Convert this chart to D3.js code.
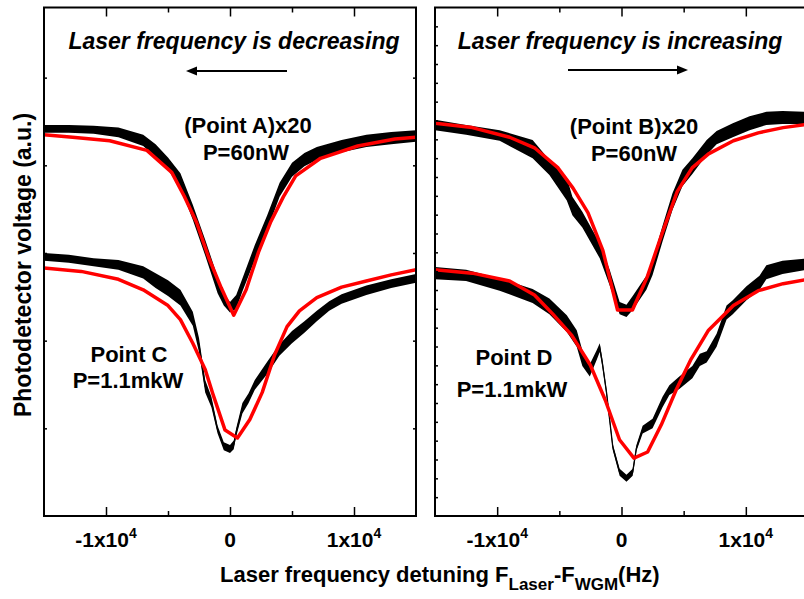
<!DOCTYPE html>
<html>
<head>
  <meta charset="utf-8">
  <style>
    body { margin: 0; background: #fff; }
    text { font-family: "Liberation Sans", Arial, sans-serif; font-weight: bold; fill: #000; }
    .title { font-style: italic; font-size: 23px; }
    .note { font-size: 22px; }
    .tick-label { font-size: 21px; }
  </style>
</head>
<body>
  <script src="https://d3js.org/d3.v7.min.js"></script>
  <svg width="804" height="599"></svg>

  <script>
    /* global d3 */
    // detuning in Hz, signal in a.u. -- measured traces are [f, low edge, high edge] of the noisy band
    var traceA = [[-15000,4.37,4.46],[-13000,4.37,4.46],[-11000,4.36,4.45],[-9000,4.32,4.43],[-7000,4.22,4.35],
      [-6000,4.09,4.24],[-5000,3.95,4.09],[-4000,3.74,3.91],[-3000,3.38,3.55],[-2000,2.97,3.15],[-1000,2.54,2.73],
      [-500,2.40,2.54],[0,2.32,2.44],[500,2.36,2.52],[1000,2.56,2.71],[2000,2.92,3.09],[3000,3.26,3.43],
      [4000,3.64,3.80],[5000,3.87,4.03],[6000,3.99,4.14],[7000,4.06,4.21],[9000,4.15,4.29],[11000,4.21,4.35],
      [13000,4.24,4.38],[15000,4.27,4.40]];
    var fitA = [[-15000,4.35],[-12700,4.32],[-9700,4.28],[-6700,4.17],[-4700,3.92],[-3700,3.65],[-2700,3.35],
      [-1700,2.94],[-700,2.60],[300,2.29],[1300,2.58],[2300,3.01],[3300,3.36],[4300,3.64],[5300,3.88],
      [7300,4.08],[10300,4.22],[13300,4.30],[15000,4.32]];

    var traceC = [[-15000,2.91,3.00],[-13000,2.89,2.98],[-11000,2.85,2.94],[-9000,2.81,2.92],[-7000,2.71,2.85],
      [-6000,2.60,2.77],[-5000,2.51,2.69],[-4000,2.40,2.58],[-3000,2.17,2.33],[-2500,1.87,2.03],[-2000,1.41,1.55],
      [-1500,1.24,1.36],[-1000,0.94,1.03],[-500,0.75,0.84],[0,0.72,0.81],[300,0.76,0.86],[500,0.91,1.00],
      [1000,1.17,1.29],[1500,1.29,1.40],[2000,1.44,1.55],[3000,1.62,1.76],[4000,1.83,1.96],[5000,1.97,2.11],
      [6000,2.09,2.22],[7000,2.22,2.34],[8000,2.34,2.45],[9000,2.42,2.53],[11000,2.52,2.63],[13000,2.60,2.70],
      [15000,2.66,2.76]];
    var fitC = [[-15000,2.83],[-12000,2.79],[-9000,2.70],[-7000,2.58],[-5000,2.40],[-4000,2.24],[-3000,1.97],
      [-2000,1.67],[-1400,1.40],[-400,0.98],[600,0.89],[1600,1.10],[2600,1.41],[3600,1.84],[4600,2.16],
      [5600,2.34],[7000,2.49],[9000,2.61],[11000,2.68],[13000,2.75],[15000,2.81]];

    var traceB = [[-15000,4.40,4.52],[-12500,4.35,4.46],[-9800,4.28,4.40],[-7150,4.08,4.29],[-5800,3.89,4.06],
      [-4400,3.60,3.86],[-3950,3.43,3.64],[-3150,3.29,3.47],[-1750,2.94,3.11],[-950,2.63,2.81],[-150,2.30,2.44],
      [400,2.27,2.41],[900,2.35,2.51],[2000,2.58,2.74],[2500,2.75,2.92],[3300,3.13,3.31],[4100,3.49,3.68],
      [4900,3.76,3.95],[5700,3.90,4.08],[6850,4.12,4.29],[7650,4.24,4.39],[8950,4.32,4.48],[10300,4.40,4.56],
      [11650,4.46,4.61],[12950,4.47,4.62],[15000,4.47,4.61]];
    var fitB = [[-15000,4.48],[-12000,4.43],[-9000,4.32],[-7000,4.20],[-5100,3.97],[-3900,3.74],[-2700,3.46],
      [-1500,3.03],[-320,2.35],[880,2.35],[2080,2.73],[3280,3.23],[4480,3.70],[5680,3.97],[7000,4.13],
      [9000,4.28],[11000,4.37],[13000,4.43],[15000,4.47]];

    var traceD = [[-15000,2.70,2.84],[-12500,2.68,2.81],[-9800,2.57,2.71],[-7150,2.43,2.59],[-5800,2.30,2.48],
      [-4400,2.10,2.29],[-3600,1.93,2.12],[-3150,1.71,1.89],[-2550,1.59,1.73],[-2000,1.78,1.89],[-1750,1.87,1.97],
      [-1550,1.71,1.80],[-1200,1.37,1.44],[-950,1.06,1.13],[-700,0.75,0.82],[-150,0.46,0.54],[400,0.39,0.47],
      [900,0.46,0.54],[1200,0.74,0.81],[1700,0.94,1.03],[2500,1.00,1.11],[3300,1.24,1.36],[3850,1.38,1.49],
      [4650,1.45,1.59],[5700,1.57,1.71],[6300,1.71,1.85],[6850,1.75,1.88],[7650,1.93,2.08],[8450,2.24,2.40],
      [8950,2.30,2.46],[10050,2.46,2.62],[11100,2.58,2.74],[11650,2.70,2.86],[12950,2.76,2.91],[15000,2.81,2.94]];
    var fitD = [[-15000,2.81],[-12000,2.77],[-9000,2.68],[-7000,2.52],[-5500,2.30],[-4000,2.06],[-2500,1.72],
      [-1300,1.32],[-160,0.87],[1000,0.66],[2100,0.73],[3200,1.04],[4400,1.44],[5600,1.79],[7000,2.12],
      [9000,2.40],[11000,2.57],[13000,2.65],[15000,2.70]];

    var xMajor = [-10000, 0, 10000];
    var xMinor = [-5000, 5000];
    var xLabels = [["-1x10", "4"], ["0", ""], ["1x10", "4"]];
    var yTicksLeft = [1, 2, 3, 4, 5];
    var yTicksRight = d3.range(1, 27);

    var svg = d3.select("svg"),
        yTop = 7.5, yBot = 516;

    var y = d3.scaleLinear().domain([0, 5.8]).range([yBot, yTop]);
    var yFine = d3.scaleLinear().domain([0, 27]).range([yBot, yTop]);

    function drawPanel(id, x0, x1, traces, fits, yt, ytScale, tickLen) {
      var x = d3.scaleLinear().domain([-15000, 15000]).range([x0, x1]);

      svg.append("clipPath").attr("id", id)
        .append("rect").attr("x", x0).attr("y", yTop).attr("width", x1 - x0).attr("height", yBot - yTop);
      var g = svg.append("g").attr("clip-path", "url(#" + id + ")");

      var band = d3.area().x(function(d) { return x(d[0]); })
          .y0(function(d) { return y(d[1]); }).y1(function(d) { return y(d[2]); });
      var mid = d3.line().x(function(d) { return x(d[0]); })
          .y(function(d) { return y((d[1] + d[2]) / 2); });
      var fit = d3.line().x(function(d) { return x(d[0]); }).y(function(d) { return y(d[1]); });

      traces.forEach(function(t) {
        g.append("path").datum(t).attr("d", band).attr("fill", "#000");
        g.append("path").datum(t).attr("d", mid).attr("fill", "none")
          .attr("stroke", "#000").attr("stroke-width", 1.3);
      });
      fits.forEach(function(f) {
        g.append("path").datum(f).attr("d", fit).attr("fill", "none")
          .attr("stroke", "#ff0000").attr("stroke-width", 3.5).attr("stroke-linejoin", "round");
      });

      // inward ticks on all four sides
      [[d3.axisBottom, yBot], [d3.axisTop, yTop]].forEach(function(a) {
        svg.append("g").attr("transform", "translate(0," + a[1] + ")")
          .call(a[0](x).tickValues(xMajor).tickSizeInner(-9).tickSizeOuter(0).tickFormat(""));
        svg.append("g").attr("transform", "translate(0," + a[1] + ")")
          .call(a[0](x).tickValues(xMinor).tickSizeInner(-5).tickSizeOuter(0).tickFormat(""));
      });
      svg.append("g").attr("transform", "translate(" + x0 + ",0)")
        .call(d3.axisLeft(ytScale).tickValues(yt).tickSizeInner(-tickLen).tickSizeOuter(0).tickFormat(""));
      svg.append("g").attr("transform", "translate(" + x1 + ",0)")
        .call(d3.axisRight(ytScale).tickValues(yt).tickSizeInner(-tickLen).tickSizeOuter(0).tickFormat(""));
      svg.selectAll(".domain").remove();
      svg.selectAll(".tick line").attr("stroke", "#000").attr("stroke-width", 1.5);

      svg.append("rect").attr("x", x0).attr("y", yTop).attr("width", x1 - x0).attr("height", yBot - yTop)
        .attr("fill", "none").attr("stroke", "#000").attr("stroke-width", 2);

      var lab = svg.selectAll(null).data(xMajor).enter().append("text")
        .attr("class", "tick-label").attr("text-anchor", "middle")
        .attr("x", function(d) { return x(d); }).attr("y", 547);
      lab.append("tspan").text(function(d, i) { return xLabels[i][0]; });
      lab.append("tspan").attr("dy", -9).style("font-size", "14px")
        .text(function(d, i) { return xLabels[i][1]; });

      return x;
    }

    drawPanel("left", 44, 416, [traceA, traceC], [fitA, fitC], yTicksLeft, y, 3);
    drawPanel("right", 435, 808, [traceB, traceD], [fitB, fitD], yTicksRight, yFine, 3);

    // titles and direction arrows
    svg.append("text").attr("class", "title").attr("x", 234).attr("y", 49)
      .attr("text-anchor", "middle").text("Laser frequency is decreasing");
    svg.append("text").attr("class", "title").attr("x", 620).attr("y", 49)
      .attr("text-anchor", "middle").text("Laser frequency is increasing");

    svg.append("line").attr("x1", 287).attr("x2", 194).attr("y1", 71).attr("y2", 71)
      .attr("stroke", "#000").attr("stroke-width", 2);
    svg.append("path").attr("d", "M186,71L197,66.5L197,75.5Z").attr("fill", "#000");
    svg.append("line").attr("x1", 568).attr("x2", 679).attr("y1", 70).attr("y2", 70)
      .attr("stroke", "#000").attr("stroke-width", 2);
    svg.append("path").attr("d", "M688,70L677,65.5L677,74.5Z").attr("fill", "#000");

    var notes = [
      ["(Point A)x20", 248, 133], ["P=60nW", 246, 160],
      ["(Point B)x20", 634, 134], ["P=60nW", 634, 161],
      ["Point C", 129, 362], ["P=1.1mkW", 128, 388],
      ["Point D", 514, 365], ["P=1.1mkW", 512, 397]
    ];
    svg.selectAll(null).data(notes).enter().append("text")
      .attr("class", "note").attr("text-anchor", "middle")
      .attr("x", function(d) { return d[1]; }).attr("y", function(d) { return d[2]; })
      .text(function(d) { return d[0]; });

    // axis titles
    var xt = svg.append("text").attr("x", 220).attr("y", 582).style("font-size", "22px");
    xt.append("tspan").text("Laser frequency detuning F");
    xt.append("tspan").attr("dy", 8).style("font-size", "17px").text("Laser");
    xt.append("tspan").attr("dy", -8).text("-F");
    xt.append("tspan").attr("dy", 8).style("font-size", "17px").text("WGM");
    xt.append("tspan").attr("dy", -8).text("(Hz)");

    svg.append("text").attr("transform", "translate(31,265) rotate(-90)")
      .attr("text-anchor", "middle").style("font-size", "23px")
      .text("Photodetector voltage (a.u.)");
  </script>
</body>
</html>
